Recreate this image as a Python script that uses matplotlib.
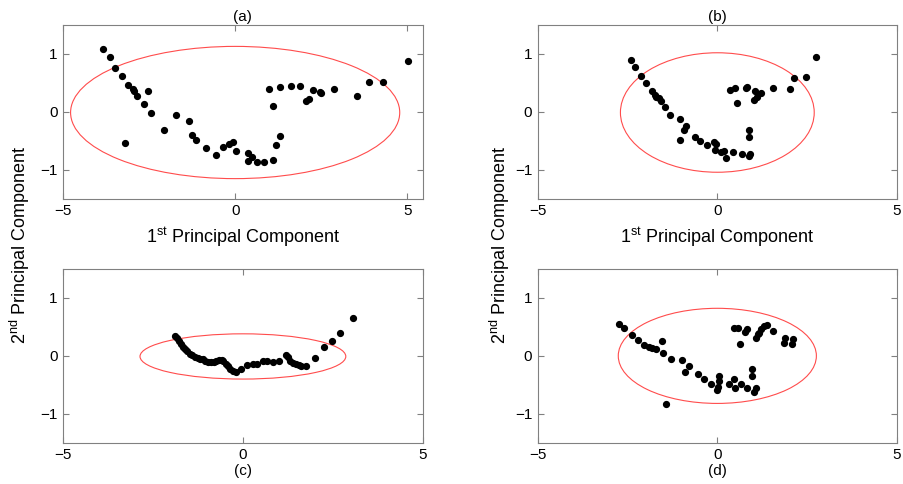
import matplotlib
matplotlib.use("Agg")
import matplotlib.pyplot as plt
from matplotlib.patches import Ellipse

plt.rcParams['font.family'] = ['Liberation Sans', 'DejaVu Sans']
plt.rcParams['mathtext.fontset'] = 'custom'
plt.rcParams['mathtext.rm'] = 'Liberation Sans'

# ---------- datos ------------------------------------------------------------
a_x = [-3.83, -3.64, -3.49, -3.30, -3.11, -2.98, -2.94, -2.85, -2.53, -2.66,
       -2.45, -3.21, -2.07, -1.73, -1.33, -1.25, -1.14, -0.84, -0.55, -0.35,
       -0.18, -0.05, 0.02, 0.37, 0.50, 0.37, 0.63, 0.84, 1.09, 1.20,
       1.30, 1.09, 0.98, 1.29, 1.62, 1.87, 2.06, 2.15, 2.25, 2.46,
       2.50, 2.88, 3.54, 3.89, 4.28, 5.02]
a_y = [1.08, 0.95, 0.76, 0.62, 0.46, 0.39, 0.36, 0.28, 0.36, 0.14,
       -0.02, -0.53, -0.32, -0.06, -0.16, -0.40, -0.49, -0.63, -0.75, -0.60,
       -0.55, -0.52, -0.68, -0.70, -0.77, -0.84, -0.86, -0.87, -0.83, -0.57,
       -0.41, 0.11, 0.40, 0.43, 0.44, 0.44, 0.19, 0.23, 0.37, 0.34,
       0.33, 0.40, 0.28, 0.52, 0.52, 0.87]

b_x = [-2.41, -2.29, -2.13, -1.99, -1.83, -1.75, -1.71, -1.63, -1.58, -1.47,
       -1.32, -1.04, -0.87, -0.92, -1.05, -0.63, -0.47, -0.29, -0.09, -0.03,
       -0.07, 0.11, 0.18, 0.25, 0.44, 0.68, 0.90, 0.89, 0.87, 0.87,
       0.36, 0.50, 0.56, 0.79, 0.84, 1.02, 1.06, 1.11, 1.21, 1.55,
       2.02, 2.14, 2.48, 2.76]
b_y = [0.89, 0.78, 0.62, 0.50, 0.36, 0.30, 0.26, 0.24, 0.19, 0.08,
       -0.05, -0.12, -0.24, -0.31, -0.48, -0.43, -0.50, -0.57, -0.51, -0.56,
       -0.66, -0.69, -0.67, -0.79, -0.69, -0.72, -0.72, -0.76, -0.43, -0.31,
       0.38, 0.41, 0.15, 0.41, 0.43, 0.21, 0.36, 0.26, 0.33, 0.41,
       0.39, 0.58, 0.61, 0.95]

c_x = [-1.90, -1.83, -1.78, -1.72, -1.67, -1.61, -1.56, -1.48, -1.41, -1.33,
       -1.26, -1.19, -1.11, -1.04, -0.96, -0.89, -0.81, -0.74, -0.67, -0.59,
       -0.54, -0.48, -0.42, -0.35, -0.28, -0.20, -0.05, 0.11, 0.28, 0.39,
       0.57, 0.67, 0.83, 0.99, 1.19, 1.26, 1.31, 1.39, 1.48, 1.57,
       1.62, 1.74, 1.99, 2.25, 2.47, 2.71, 3.06]
c_y = [0.35, 0.30, 0.25, 0.21, 0.16, 0.11, 0.08, 0.04, 0.01, -0.02,
       -0.03, -0.05, -0.06, -0.08, -0.10, -0.11, -0.10, -0.08, -0.07, -0.07,
       -0.09, -0.14, -0.18, -0.22, -0.26, -0.27, -0.22, -0.16, -0.14, -0.14,
       -0.09, -0.09, -0.10, -0.08, 0.01, -0.02, -0.09, -0.13, -0.14, -0.15,
       -0.18, -0.17, -0.03, 0.15, 0.26, 0.39, 0.65]

d_x = [-2.75, -2.59, -2.37, -2.21, -2.03, -1.90, -1.81, -1.70, -1.53, -1.50,
       -1.30, -0.99, -0.80, -0.90, -1.42, -0.53, -0.37, -0.19, 0.00, 0.01,
       0.04, 0.06, 0.32, 0.46, 0.49, 0.65, 0.83, 0.96, 0.98, 1.02,
       1.07, 0.47, 0.57, 0.63, 0.78, 0.83, 1.09, 1.13, 1.17, 1.21,
       1.30, 1.38, 1.55, 1.86, 1.89, 2.08, 2.11]
d_y = [0.55, 0.48, 0.36, 0.27, 0.18, 0.15, 0.14, 0.11, 0.26, 0.05,
       -0.05, -0.07, -0.17, -0.27, -0.83, -0.32, -0.40, -0.48, -0.59, -0.54,
       -0.43, -0.35, -0.48, -0.40, -0.55, -0.48, -0.56, -0.22, -0.35, -0.62,
       -0.55, 0.48, 0.48, 0.20, 0.41, 0.47, 0.30, 0.37, 0.40, 0.47,
       0.52, 0.53, 0.43, 0.23, 0.31, 0.20, 0.29]

# elipses: centro (x, y) y semiejes (a, b)
ell_center = [(0.0, -0.01), (0.0, -0.01), (0.0, -0.01), (0.0, 0.0)]
ell_semi   = [(4.78, 1.14), (2.70, 1.03), (2.86, 0.39), (2.76, 0.82)]

panels = [("(a)", a_x, a_y), ("(b)", b_x, b_y), ("(c)", c_x, c_y), ("(d)", d_x, d_y)]
xlims = [(-5, 5.45), (-5, 5), (-5, 5), (-5, 5)]

# posiciones de los ejes (fracciones de figura)
boxes = [(0.0697, 0.589, 0.398, 0.3595),
         (0.5950, 0.589, 0.397, 0.3595),
         (0.0697, 0.085, 0.398, 0.3595),
         (0.5950, 0.085, 0.397, 0.3595)]

fig = plt.figure(figsize=(9.04, 4.84), dpi=100)

for i, (tag, xs, ys) in enumerate(panels):
    ax = fig.add_axes(boxes[i])
    ax.plot(xs, ys, 'o', color='black', ms=4.2, mec='black', zorder=3)
    cx, cy = ell_center[i]
    sa, sb = ell_semi[i]
    ax.add_patch(Ellipse((cx, cy), 2 * sa, 2 * sb, fill=False,
                         edgecolor='#ff4c4c', lw=0.8, zorder=2))
    ax.set_xlim(*xlims[i])
    ax.set_ylim(-1.5, 1.5)
    ax.set_xticks([-5, 0, 5])
    ax.set_yticks([-1, 0, 1])
    ax.tick_params(direction='in', top=True, right=True, length=4,
                   color='#808080', labelsize=11, pad=4)
    for s in ax.spines.values():
        s.set_color('#808080')
        s.set_linewidth(0.8)
    if i < 2:
        ax.set_title(tag, fontsize=11, pad=3)
        ax.set_xlabel(r"1$^{\mathrm{st}}$ Principal Component", fontsize=13, labelpad=5)
    else:
        ax.set_xlabel(tag, fontsize=11, labelpad=1)

ylab = r"2$^{\mathrm{nd}}$ Principal Component"
fig.text(0.022, 0.494, ylab, rotation=90, ha='center', va='center', fontsize=13)
fig.text(0.553, 0.494, ylab, rotation=90, ha='center', va='center', fontsize=13)

plt.savefig("out.png", dpi=100)
